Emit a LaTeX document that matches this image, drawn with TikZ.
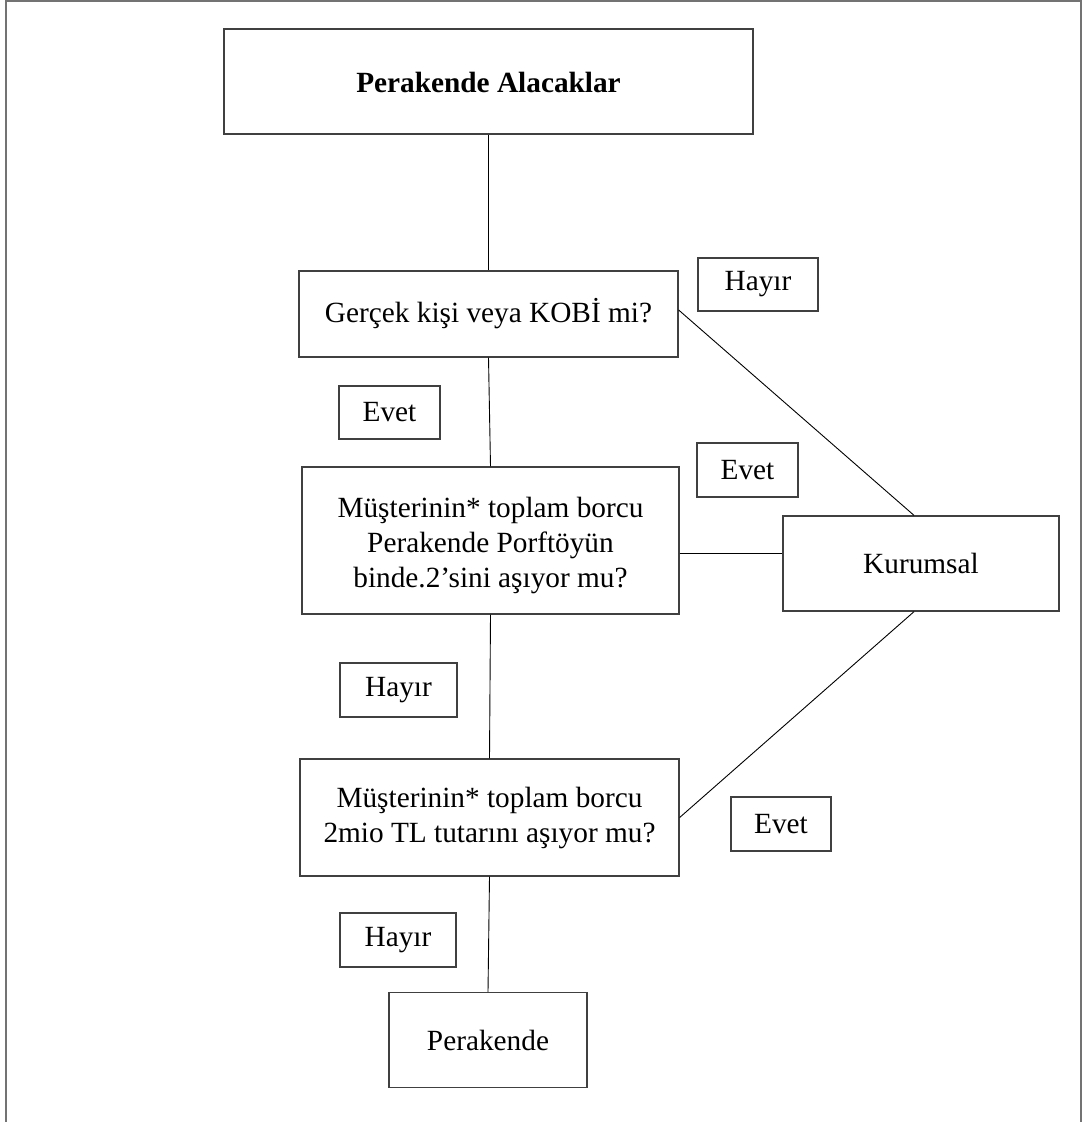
\documentclass[tikz,border=0pt]{standalone}
\usepackage{fontspec}
\setmainfont{Liberation Serif}
% shift text down without changing the size the node sees
\newcommand{\lowered}[2]{\raisebox{-#1}[\height][\depth]{\begin{tabular}{@{}c@{}}#2\end{tabular}}}
\begin{document}
\begin{tikzpicture}[x=1pt,y=-1pt,
  box/.style={draw=black!75, line width=1.3pt, rectangle, inner sep=0pt,
    align=center, font=\fontsize{29.3}{35}\selectfont},
  tag/.style={box},
  link/.style={draw=black, line width=0.9pt}]
\useasboundingbox (0,0) rectangle (1082,1122);
% page frame
\draw[black!55, line width=2pt] (6,1122) -- (6,1) -- (1081,1) -- (1081,1122);

% main boxes
\node[box, minimum width=529pt, minimum height=105pt] (top) at (488.5,81.5) {\lowered{4pt}{\textbf{Perakende Alacaklar}}};
\node[box, minimum width=379pt, minimum height=86pt] (q1) at (488.5,314) {Gerçek kişi veya KOBİ mi?};
\node[box, minimum width=377pt, minimum height=147pt] (q2) at (490.5,540.5) {\lowered{5pt}{Müşterinin* toplam borcu\\Perakende Porftöyün\\binde.2’sini aşıyor mu?}};
\node[box, minimum width=379pt, minimum height=117pt] (q3) at (489.5,817.5) {Müşterinin* toplam borcu\\2mio TL tutarını aşıyor mu?};
\node[box, minimum width=276pt, minimum height=95pt] (kur) at (921,563.5) {\lowered{3pt}{Kurumsal}};
\node[box, minimum width=198pt, minimum height=95pt] (per) at (488,1040) {Perakende};

% answer tags
\node[tag, minimum width=120pt, minimum height=53pt] (h1) at (758,284.5) {Hayır};
\node[tag, minimum width=101pt, minimum height=53pt] (e1) at (389.5,412.5) {Evet};
\node[tag, minimum width=101pt, minimum height=54pt] (e2) at (747.5,470) {Evet};
\node[tag, minimum width=117pt, minimum height=54pt] (h2) at (398.5,690) {Hayır};
\node[tag, minimum width=100pt, minimum height=54pt] (e3) at (781,824) {Evet};
\node[tag, minimum width=116pt, minimum height=54pt] (h3) at (398,940) {Hayır};

% connectors
\draw[link] (top.south) -- (q1.north);
\draw[link] (q1.south) -- (q2.north);
\draw[link] ([yshift=4pt]q1.east) -- ([xshift=-7pt]kur.north);
\draw[link] ([yshift=-12.5pt]q2.east) -- ([yshift=-12.5pt]q2.east -| kur.west);
\draw[link] (q2.south) -- (q3.north);
\draw[link] (q3.east) -- ([xshift=-7pt]kur.south);
\draw[link] (q3.south) -- (per.north);
\end{tikzpicture}
\end{document}
